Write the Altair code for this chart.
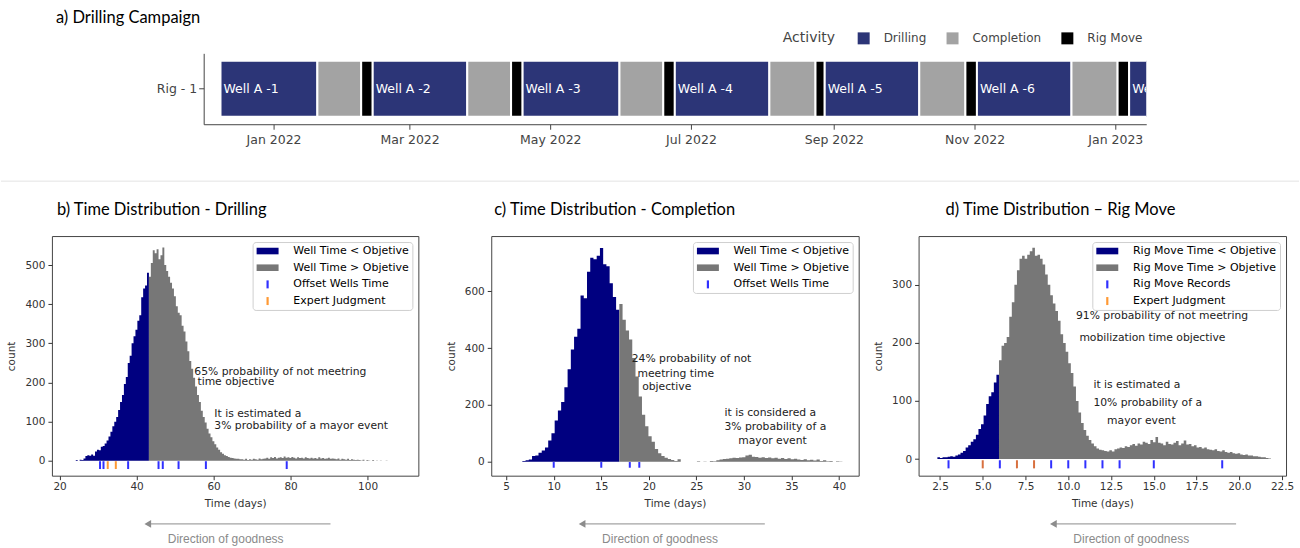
import altair as alt
import pandas as pd

# ---------------- a) Drilling campaign ----------------
RIG = "Rig - 1"
WELLS = ["Well A -1", "Well A -2", "Well A -3", "Well A -4", "Well A -5", "Well A -6", "Well A -7"]
DRILL_START = ["2021-12-09", "2022-02-13", "2022-04-19", "2022-06-24", "2022-08-28", "2022-11-02", "2023-01-07"]
DRILL_END = ["2022-01-20", "2022-03-26", "2022-05-31", "2022-08-04", "2022-10-08", "2022-12-13", "2023-02-17"]
COMPLETION_END = ["2022-02-08", "2022-04-14", "2022-06-19", "2022-08-24", "2022-10-28", "2023-01-02", None]
RIG_MOVE_END = ["2022-02-13", "2022-04-19", "2022-06-24", "2022-08-28", "2022-11-02", "2023-01-07", None]
ACTIVITIES = ["Drilling", "Completion", "Rig Move"]
ACTIVITY_COLORS = ["#2c3577", "#a3a3a3", "#000000"]
GANTT_TICKS = [(2022, 1), (2022, 3), (2022, 5), (2022, 7), (2022, 9), (2022, 11), (2023, 1)]
GANTT_TITLE = "a) Drilling Campaign"

# ---------------- b) Drilling time distribution ----------------
DRILL_TITLE = "b) Time Distribution - Drilling"
DRILL_BIN_START, DRILL_BIN_WIDTH, DRILL_OBJECTIVE = 24.2, 0.5, 43.2
DRILL_COUNTS = [
    2, 0, 3, 2, 6, 12, 14, 13, 16, 13, 24, 28, 27, 36, 38, 44, 52, 62, 74, 88,
    100, 112, 130, 150, 168, 196, 214, 250, 268, 300, 318, 335, 358, 372, 418, 440, 448, 480,
    470, 505, 538, 530, 540, 515, 525, 545, 500, 485,
    470, 455, 440, 420, 395, 378, 372, 345, 330, 305,
    280, 255, 235, 212, 190, 168, 150, 128, 112, 98,
    82, 70, 60, 50, 42, 34, 28, 22, 18, 14,
    12, 10, 8, 7, 6, 5, 5, 4,
    4, 3, 5, 2, 4, 3, 5, 4, 3, 6, 4, 5,
    6, 8, 5, 9, 7, 10, 6, 8, 9, 7, 11, 8,
    9, 7, 10, 8, 6, 9, 7, 8, 6, 9, 7, 6,
    8, 6, 7, 5, 9, 6, 7, 5, 6, 8, 5, 6,
    5, 4, 6, 3, 5, 4, 3, 5, 2, 4, 3, 2,
    3, 2, 1, 3, 0, 2, 1, 0, 2, 0, 1, 0,
    1, 0, 0, 1,
]
DRILL_OFFSET_WELLS = [30.5, 31.4, 37.8, 45.7, 46.8, 50.9, 58.0, 79.0]
DRILL_EXPERT = [32.5, 34.6]
DRILL_LEGEND = ["Well Time < Objetive", "Well Time > Objetive", "Offset Wells Time", "Expert Judgment"]
DRILL_NOTE_TEXT = ["65% probability of not meetring", "time objective", "It is estimated a", "3% probability of a mayor event"]
DRILL_NOTE_X = [55.0, 55.8, 60.2, 60.2]
DRILL_NOTE_Y = [228, 200, 119, 88]

# ---------------- c) Completion time distribution ----------------
COMP_TITLE = "c) Time Distribution - Completion"
COMP_BIN_START, COMP_BIN_WIDTH, COMP_OBJECTIVE = 6.7, 0.34, 16.9
COMP_COUNTS = [
    3, 5, 8, 20, 22, 32, 40, 50, 75, 100, 145, 180, 210, 262, 325, 395, 440, 468, 585, 575,
    668, 718, 712, 725, 752, 695, 688, 628, 580, 535,
    555, 500, 462, 430, 365, 300, 230, 165, 125, 90, 70, 45, 30, 20, 14, 10, 6, 3, 9,
    0, 0, 0, 0, 0,
    2, 0, 1, 0, 3, 2, 5, 8, 10, 11, 12, 14, 13, 15, 16, 22, 25, 18, 17,
    14, 16, 13, 15, 12, 14, 11, 13, 10, 12, 9, 11, 8, 6, 9, 5, 7, 4, 8, 3,
    5, 2, 3, 0, 2, 1,
]
COMP_OFFSET_WELLS = [10.0, 15.0, 18.0, 19.0]
COMP_LEGEND = ["Well Time < Objetive", "Well Time > Objetive", "Offset Wells Time"]
COMP_NOTE_TEXT = ["24% probability of not", "meetring time", "objective",
                  "it is considered a", "3% probability of a", "mayor event"]
COMP_NOTE_X = [18.2, 18.8, 19.3, 27.96, 27.96, 29.4]
COMP_NOTE_Y = [360, 310, 263, 172, 121, 73]

# ---------------- d) Rig move time distribution ----------------
RIG_TITLE = "d) Time Distribution \u2013 Rig Move"
RIG_BIN_START, RIG_BIN_WIDTH, RIG_OBJECTIVE = 2.35, 0.15, 5.95
RIG_COUNTS = [
    3, 2, 3, 3, 4, 5, 4, 6, 8, 11, 14, 20, 24, 30, 34, 42, 52, 60, 75, 95, 108, 115, 132, 145,
    170, 195, 200, 210, 245, 270, 300, 325, 345, 350,
    345, 352, 358, 364, 350, 352, 345, 335, 318, 300,
    282, 268, 255, 238, 215, 200, 185, 165, 148, 125,
    100, 80, 62, 50, 40, 33, 27, 22, 18, 16,
    15, 14, 13, 15, 13, 17, 18, 20, 19, 22,
    21, 24, 26, 23, 27, 25, 30, 28, 26, 33,
    29, 38, 28, 27, 24, 30, 26, 25, 28, 31,
    24, 27, 32, 25, 26, 22, 24, 20, 21, 18,
    20, 17, 16, 15, 17, 14, 13, 15, 12, 11,
    12, 10, 9, 10, 8, 7, 8, 6, 6, 5,
    5, 4, 3, 3, 2, 1,
]
RIG_RECORDS = [3.0, 6.0, 9.0, 10.0, 11.0, 12.0, 13.0, 15.0, 19.0]
RIG_EXPERT = [5.0, 7.0, 8.0]
RIG_LEGEND = ["Rig Move Time < Objetive", "Rig Move Time > Objetive", "Rig Move Records", "Expert Judgment"]
RIG_NOTE_TEXT = ["91% probability of not meetring", "mobilization time objective",
                 "it is estimated a", "10% probability of a", "mayor event"]
RIG_NOTE_X = [10.45, 10.65, 11.47, 11.47, 12.27]
RIG_NOTE_Y = [247, 208, 127, 97, 66]

# ---------------- styles ----------------
NAVY = "#000080"
GRAY = "#777777"
BLUE = "#3030ff"
ORANGE = "#ff9933"
ORANGE_D = "#d8703f"
RECT_PATH = "M-1.833,-0.55H1.833V0.55H-1.833Z"
LINE_PATH = "M-0.183,-0.667H0.183V0.667H-0.183Z"
AXIS_FONT = "DejaVu Sans"
TITLE_FONT = "Lato"
TITLE_SIZE = 16.5
ONE = pd.DataFrame({"k": [0]})


def iso(d):
    return d + "T00:00:00"


def title_text(text, dx, dy):
    return alt.Chart(ONE).mark_text(text=text, align="left", baseline="middle", font=TITLE_FONT,
                                    fontSize=TITLE_SIZE, color="black").encode(
        x=alt.value(dx), y=alt.value(dy))


# ---------------- gantt chart ----------------
rows = []
for i, w in enumerate(WELLS):
    rows.append({"rig": RIG, "activity": "Drilling", "start": iso(DRILL_START[i]), "end": iso(DRILL_END[i]), "label": w})
    if COMPLETION_END[i]:
        rows.append({"rig": RIG, "activity": "Completion", "start": iso(DRILL_END[i]), "end": iso(COMPLETION_END[i]), "label": ""})
    if RIG_MOVE_END[i]:
        rows.append({"rig": RIG, "activity": "Rig Move", "start": iso(COMPLETION_END[i]), "end": iso(RIG_MOVE_END[i]), "label": ""})
gantt_df = pd.DataFrame(rows)

GW, GH = 1096, 71
gx = alt.X(
    "start:T",
    scale=alt.Scale(domain=[alt.DateTime(year=2021, month=12, date=1, hours=17),
                            alt.DateTime(year=2023, month=1, date=14, hours=10)],
                    range=[152, GW]),
    axis=alt.Axis(values=[alt.DateTime(year=y, month=m, date=1) for y, m in GANTT_TICKS],
                  format="%b %Y", title=None, grid=False, domainColor="#444", tickColor="#444",
                  tickSize=5, labelPadding=4, labelFont=AXIS_FONT, labelFontSize=12.5,
                  labelColor="#444", labelFlush=False, labelOverlap=False),
)
gy = alt.Y("rig:N", scale=alt.Scale(paddingInner=0, paddingOuter=0.134),
           axis=alt.Axis(title=None, offset=-152, domainColor="#444", tickColor="#444", tickSize=5,
                         labelPadding=2, labelFont=AXIS_FONT, labelFontSize=12.5, labelColor="#444"))

bars = alt.Chart(gantt_df).mark_bar(clip=True, stroke="white", strokeWidth=2).encode(
    x=gx, x2="end:T", y=gy,
    color=alt.Color("activity:N", scale=alt.Scale(domain=ACTIVITIES, range=ACTIVITY_COLORS),
                    legend=alt.Legend(title="Activity", orient="none", legendX=732, legendY=-21,
                                      direction="horizontal", titleOrient="left", titlePadding=22,
                                      titleFont=AXIS_FONT, titleFontSize=14, titleFontWeight="normal",
                                      titleColor="#444", labelFont=AXIS_FONT, labelFontSize=12,
                                      labelColor="#444", symbolType="square", symbolSize=144,
                                      symbolStrokeWidth=0, labelOffset=14, columnPadding=20)),
)
labels = alt.Chart(gantt_df).transform_filter(alt.datum.label != "").mark_text(
    align="left", baseline="middle", dx=3, clip=True, color="white", font=AXIS_FONT, fontSize=12.5
).encode(x=gx, y=gy, text="label:N")
separator = alt.Chart(ONE).mark_rule(color="#e3e3e3", strokeWidth=1).encode(
    x=alt.value(-51), x2=alt.value(1249), y=alt.value(128))
top_anchor = alt.Chart(ONE).mark_rule(strokeOpacity=0, strokeWidth=1).encode(
    x=alt.value(0), x2=alt.value(20), y=alt.value(-52.5))

gantt = alt.layer(separator, top_anchor, bars, labels, title_text(GANTT_TITLE, 4, -35)).properties(
    width=GW, height=GH)


# ---------------- histogram panels ----------------
def hist_panel(title, title_dx, width, counts, start, step, objective, x_domain, x_ticks, x_format,
               y_domain, y_ticks, rugs, rug_span, legend_entries, legend_colors, legend_shapes,
               note_x, note_y, note_text, arrow_tip, arrow_tail, arrow_text_x):
    H = 240
    lo_rows, hi_rows = [], []
    for i, c in enumerate(counts):
        x0 = round(start + i * step, 4)
        (lo_rows if x0 < objective - 1e-6 else hi_rows).append({"x": x0, "y": c})
    lo_rows.append({"x": objective, "y": lo_rows[-1]["y"]})
    hi_rows.append({"x": round(start + len(counts) * step, 4), "y": hi_rows[-1]["y"]})

    X = alt.X("x:Q", scale=alt.Scale(domain=x_domain, nice=False, zero=False),
              axis=alt.Axis(values=x_ticks, format=x_format, title="Time (days)", grid=False, domain=False,
                            tickSize=4, tickColor="#333", labelFont=AXIS_FONT, labelFontSize=10.5,
                            labelColor="#333", labelPadding=2, labelFlush=False, titleFont=AXIS_FONT,
                            titleFontSize=10.5, titleFontWeight="normal", titleColor="#333", titlePadding=6))
    Y = alt.Y("y:Q", scale=alt.Scale(domain=y_domain, nice=False, zero=False),
              axis=alt.Axis(values=y_ticks, title="count", grid=False, domain=False, tickSize=4,
                            tickColor="#333", labelFont=AXIS_FONT, labelFontSize=10.5, labelColor="#333",
                            labelPadding=3, labelFlush=False, titleFont=AXIS_FONT, titleFontSize=10.5,
                            titleFontWeight="normal", titleColor="#333", titlePadding=8))

    layers = [
        alt.Chart(pd.DataFrame(lo_rows)).mark_area(interpolate="step-after", color=NAVY).encode(x=X, y=Y),
        alt.Chart(pd.DataFrame(hi_rows)).mark_area(interpolate="step-after", color=GRAY).encode(x=X, y=Y),
    ]
    for values, col in rugs:
        layers.append(alt.Chart(pd.DataFrame({"x": values})).mark_rule(color=col, strokeWidth=2).encode(
            x=X, y=alt.datum(rug_span[0]), y2=alt.datum(rug_span[1])))
    notes = pd.DataFrame({"x": note_x, "y": note_y, "t": note_text})
    layers.append(alt.Chart(notes).mark_text(align="left", baseline="middle", font=AXIS_FONT,
                                             fontSize=10.8, color="#222").encode(x=X, y=Y, text="t:N"))
    leg = alt.Legend(title=None, orient="top-right", offset=6, symbolSize=144, symbolStrokeWidth=0,
                     symbolOffset=6, labelFont=AXIS_FONT, labelFontSize=11, labelColor="black",
                     labelOffset=19.7, padding=3, rowPadding=5.7, fillColor="white", strokeColor="#cfcfcf",
                     cornerRadius=3, labelLimit=300)
    layers.append(alt.Chart(pd.DataFrame({"entry": legend_entries})).mark_point(
        filled=True, size=144, opacity=1).encode(
        x=alt.value(width - 70), y=alt.value(28),
        color=alt.Color("entry:N", scale=alt.Scale(domain=legend_entries, range=legend_colors), legend=leg),
        shape=alt.Shape("entry:N", scale=alt.Scale(domain=legend_entries, range=legend_shapes), legend=leg)))
    ay = H + 48.3
    layers.append(alt.Chart(ONE).mark_rule(color="#8c8c8c", strokeWidth=1).encode(
        x=alt.value(arrow_tip + 6), x2=alt.value(arrow_tail), y=alt.value(ay)))
    layers.append(alt.Chart(ONE).mark_point(shape="triangle-left", filled=True, color="#8c8c8c",
                                            size=60, opacity=1).encode(x=alt.value(arrow_tip + 4), y=alt.value(ay)))
    layers.append(alt.Chart(ONE).mark_text(text="Direction of goodness",
                                           font="Liberation Sans Narrow, Liberation Sans, sans-serif",
                                           fontSize=12, color="#8a8a8a", align="center", baseline="middle").encode(
        x=alt.value(arrow_text_x), y=alt.value(H + 63)))
    layers.append(title_text(title, title_dx, -26))
    return alt.layer(*layers).properties(
        width=width, height=H,
        view=alt.ViewBackground(stroke="#444", strokeWidth=1),
    )


panel_b = hist_panel(
    DRILL_TITLE, 5, 367, DRILL_COUNTS, DRILL_BIN_START, DRILL_BIN_WIDTH, DRILL_OBJECTIVE,
    [18.0, 113.2], [20, 40, 60, 80, 100], "d", [-38, 574], [0, 100, 200, 300, 400, 500],
    [(DRILL_OFFSET_WELLS, BLUE), (DRILL_EXPERT, ORANGE)], (-1, -21),
    DRILL_LEGEND, [NAVY, GRAY, BLUE, ORANGE], [RECT_PATH, RECT_PATH, LINE_PATH, LINE_PATH],
    DRILL_NOTE_X, DRILL_NOTE_Y, DRILL_NOTE_TEXT, 92, 279, 174)

panel_c = hist_panel(
    COMP_TITLE, 3, 368, COMP_COUNTS, COMP_BIN_START, COMP_BIN_WIDTH, COMP_OBJECTIVE,
    [3.43, 42.07], [5, 10, 15, 20, 25, 30, 35, 40], "d", [-49, 794], [0, 100, 200, 300, 400, 500, 600, 700],
    [(COMP_OFFSET_WELLS, BLUE)], (-1, -21),
    COMP_LEGEND, [NAVY, GRAY, BLUE], [RECT_PATH, RECT_PATH, LINE_PATH],
    COMP_NOTE_X, COMP_NOTE_Y, COMP_NOTE_TEXT, 87, 274, 169)

panel_d = hist_panel(
    RIG_TITLE, 27, 368, RIG_COUNTS, RIG_BIN_START, RIG_BIN_WIDTH, RIG_OBJECTIVE,
    [1.25, 22.73], [2.5, 5, 7.5, 10, 12.5, 15, 17.5, 20, 22.5], ".1f", [-28.6, 384],
    [0, 50, 100, 150, 200, 250, 300, 350],
    [(RIG_RECORDS, BLUE), (RIG_EXPERT, ORANGE_D)], (-2, -16),
    RIG_LEGEND, [NAVY, GRAY, BLUE, ORANGE], [RECT_PATH, RECT_PATH, LINE_PATH, LINE_PATH],
    RIG_NOTE_X, RIG_NOTE_Y, RIG_NOTE_TEXT, 131, 318, 213)

row_cd = alt.hconcat(panel_c, panel_d, spacing=60, bounds="flush").resolve_scale(
    color="independent", shape="independent")
row = alt.hconcat(panel_b, row_cd, spacing=73, bounds="flush").resolve_scale(
    color="independent", shape="independent")
chart = alt.vconcat(gantt, row, spacing=112, bounds="flush").resolve_scale(
    color="independent", shape="independent"
).properties(
    padding={"left": 0, "top": 0, "right": 0, "bottom": 0},
    background="white",
).configure_view(stroke=None)

chart.save("out.html", embed_options={"renderer": "svg", "actions": False})
